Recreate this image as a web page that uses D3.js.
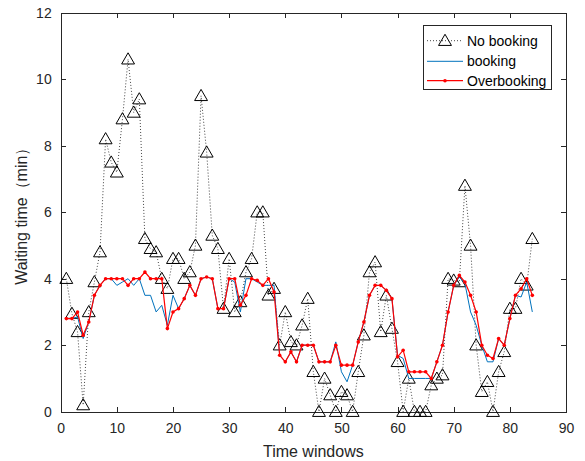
<!DOCTYPE html>
<head>
  <meta charset="utf-8">
  <script src="https://d3js.org/d3.v7.min.js"></script>
  <style>
    body { margin:0; background:#fff; }
    text { font-family: "Liberation Sans", Arial, Helvetica, sans-serif; }
    .axis path, .axis line { fill:none; stroke:#262626; stroke-width:1px; shape-rendering:crispEdges; }
    .axis text { font-size:14px; fill:#262626; }
  </style>
</head>
<body>
  <svg id="chart"></svg>
  <script>
  // time window index 1..84
  var windows = d3.range(1, 85);

  var noBooking = [4.0, 2.95, 2.4, 0.2, 3.0, 3.9, 4.8, 8.2, 7.5, 7.2,
    8.8, 10.6, 9.0, 9.4, 5.2, 4.9, 4.8, 4.0, 3.7, 4.6,
    4.6, 4.0, 4.2, 5.0, 9.5, 7.8, 5.3, 4.9, 3.1, 4.6,
    3.0, 3.3, 4.2, 4.6, 6.0, 6.0, 3.5, 3.7, 2.0, 3.0,
    2.1, 2.0, 2.6, 3.4, 1.2, 0, 1.0, 0.5, 0, 0.6,
    0.5, 0, 1.2, 2.3, 4.2, 4.5, 2.4, 3.5, 2.5, 1.5,
    0, 1.0, 0, 0, 0, 0.8, 1.0, 1.1, 4.0, 3.95,
    3.9, 6.8, 5.0, 2.0, 0.6, 0.9, 0, 1.2, 1.8, 3.1,
    3.1, 4.0, 3.8, 5.2];

  var booking = [2.8, 2.8, 2.85, 2.2, 2.7, 3.5, 3.8, 4.0, 4.0, 3.8,
    3.9, 4.0, 3.8, 4.0, 3.5, 3.5, 3.0, 3.2, 2.6, 3.5,
    3.1, 3.4, 3.8, 3.5, 4.0, 4.05, 4.0, 3.1, 3.1, 4.0,
    3.9, 3.0, 4.0, 4.0, 3.9, 3.8, 3.8, 3.8, 1.7, 1.5,
    1.8, 1.5, 2.0, 2.0, 2.0, 1.5, 1.5, 1.5, 2.1, 1.2,
    0.9, 1.4, 2.1, 2.7, 3.5, 3.8, 3.8, 3.65, 3.4, 1.7,
    1.6, 1.0, 1.0, 1.0, 1.0, 1.0, 1.5, 2.0, 3.0, 3.8,
    4.05, 3.85, 3.0, 2.6, 2.0, 1.5, 1.5, 2.2, 2.0, 2.8,
    3.5, 3.45, 3.9, 3.0];

  var overbooking = [2.8, 2.8, 3.0, 2.3, 2.7, 3.5, 3.8, 4.0, 4.0, 4.0,
    4.0, 3.8, 4.0, 4.0, 4.2, 4.0, 4.0, 4.0, 2.5, 3.0,
    3.1, 3.4, 3.8, 3.5, 4.0, 4.05, 4.0, 3.1, 3.1, 4.0,
    4.0, 3.2, 3.5, 4.0, 3.95, 3.8, 4.0, 3.6, 1.7, 1.5,
    1.8, 1.5, 2.0, 2.0, 2.0, 1.5, 1.5, 1.5, 2.0, 1.4,
    1.4, 1.4, 2.1, 2.7, 3.5, 3.8, 3.8, 3.65, 3.4, 1.65,
    1.85, 1.2, 1.2, 1.2, 1.2, 1.0, 1.5, 2.0, 3.0, 3.8,
    4.1, 3.9, 3.5, 3.0, 2.0, 1.7, 1.6, 2.2, 2.0, 2.8,
    3.5, 3.7, 4.0, 3.5];

  var xTicks = [0, 10, 20, 30, 40, 50, 60, 70, 80, 90];
  var yTicks = [0, 2, 4, 6, 8, 10, 12];
  var seriesNames = ["No booking", "booking", "Overbooking"];

  var width = 585, height = 461;
  var plotLeft = 60.7, plotRight = 566, plotTop = 12.7, plotBottom = 411.7;

  var svg = d3.select("#chart")
    .attr("width", width)
    .attr("height", height);

  var x = d3.scaleLinear().domain([0, 90]).range([plotLeft, plotRight]);
  var y = d3.scaleLinear().domain([0, 12]).range([plotBottom, plotTop]);

  // axes, ticks pointing inward
  svg.append("g")
    .attr("class", "axis")
    .attr("transform", "translate(0," + plotBottom + ")")
    .call(d3.axisBottom(x).tickValues(xTicks).tickSizeInner(-5).tickSizeOuter(0).tickPadding(11));

  svg.append("g")
    .attr("class", "axis")
    .attr("transform", "translate(" + plotLeft + ",0)")
    .call(d3.axisLeft(y).tickValues(yTicks).tickSizeInner(-5).tickSizeOuter(0).tickPadding(9));

  svg.append("g")
    .attr("class", "axis")
    .attr("transform", "translate(0," + plotTop + ")")
    .call(d3.axisTop(x).tickValues(xTicks).tickSizeInner(-5).tickSizeOuter(0).tickFormat(""));

  svg.append("g")
    .attr("class", "axis")
    .attr("transform", "translate(" + plotRight + ",0)")
    .call(d3.axisRight(y).tickValues(yTicks).tickSizeInner(-5).tickSizeOuter(0).tickFormat(""));

  // axis titles
  svg.append("text")
    .attr("x", (plotLeft + plotRight) / 2)
    .attr("y", 457)
    .attr("text-anchor", "middle")
    .style("font-size", "16px")
    .style("fill", "#262626")
    .text("Time windows");

  svg.append("text")
    .attr("transform", "translate(27," + ((plotTop + plotBottom) / 2) + ") rotate(-90)")
    .attr("text-anchor", "middle")
    .style("font-size", "16px")
    .style("fill", "#262626")
    .text("Waiting time（min）");

  var line = function(vals) {
    return d3.line()
      .x(function(d, i) { return x(windows[i]); })
      .y(function(d) { return y(d); })(vals);
  };

  var tri = d3.symbol().type(d3.symbolTriangle).size(72);

  // no booking: dotted line + open triangles
  svg.append("path")
    .attr("d", line(noBooking))
    .attr("fill", "none")
    .attr("stroke", "#444")
    .attr("stroke-width", 1)
    .attr("stroke-dasharray", "1,2");

  svg.append("g").selectAll("path")
    .data(noBooking)
    .enter().append("path")
    .attr("d", tri)
    .attr("transform", function(d, i) { return "translate(" + x(windows[i]) + "," + (y(d) + 1) + ")"; })
    .attr("fill", "none")
    .attr("stroke", "#000")
    .attr("stroke-width", 1);

  // booking
  svg.append("path")
    .attr("d", line(booking))
    .attr("fill", "none")
    .attr("stroke", "#0072BD")
    .attr("stroke-width", 1);

  // overbooking
  svg.append("path")
    .attr("d", line(overbooking))
    .attr("fill", "none")
    .attr("stroke", "#FF0000")
    .attr("stroke-width", 1.2);

  svg.append("g").selectAll("circle")
    .data(overbooking)
    .enter().append("circle")
    .attr("cx", function(d, i) { return x(windows[i]); })
    .attr("cy", function(d) { return y(d); })
    .attr("r", 1.8)
    .attr("fill", "#FF0000");

  // legend
  var lg = svg.append("g");
  lg.append("rect")
    .attr("x", 423.5).attr("y", 25.5)
    .attr("width", 128).attr("height", 64)
    .attr("fill", "#fff")
    .attr("stroke", "#262626")
    .attr("stroke-width", 1);

  var rows = [40.7, 61.3, 80.7];
  seriesNames.forEach(function(name, i) {
    var ly = rows[i];
    var ln = lg.append("line")
      .attr("x1", 427).attr("x2", 463)
      .attr("y1", ly).attr("y2", ly);
    if (i === 0) {
      ln.attr("stroke", "#444").attr("stroke-dasharray", "1,2");
      lg.append("path").attr("d", tri)
        .attr("transform", "translate(445," + (ly + 1) + ")")
        .attr("fill", "none").attr("stroke", "#000");
    } else if (i === 1) {
      ln.attr("stroke", "#0072BD");
    } else {
      ln.attr("stroke", "#FF0000").attr("stroke-width", 1.2);
      lg.append("circle").attr("cx", 445).attr("cy", ly).attr("r", 1.8).attr("fill", "#FF0000");
    }
    lg.append("text")
      .attr("x", 467)
      .attr("y", ly + 5)
      .style("font-size", "14px")
      .style("fill", "#000")
      .text(name);
  });
  </script>
</body>
